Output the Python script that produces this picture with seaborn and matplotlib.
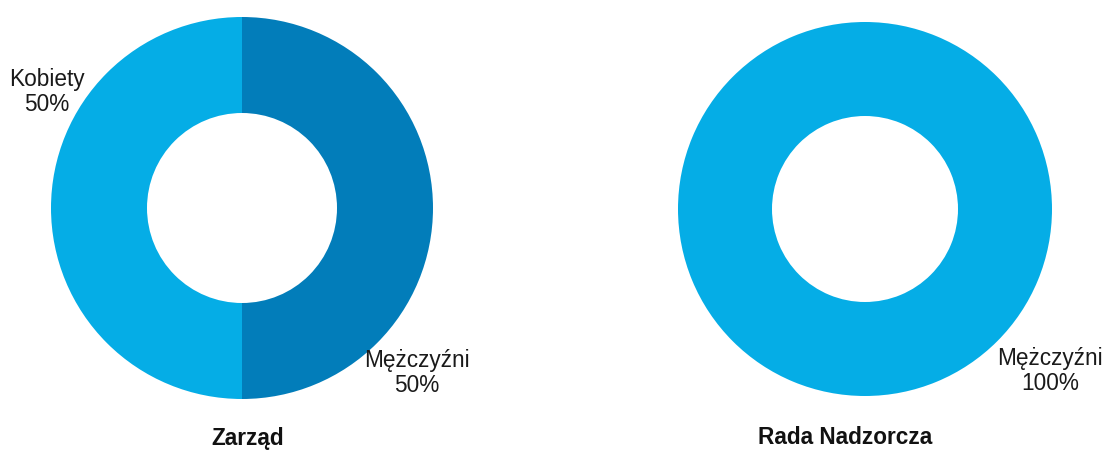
import matplotlib
matplotlib.use("Agg")
import matplotlib.pyplot as plt
import seaborn as sns

# ================= DANE =================
zarzad_etykiety = ["Kobiety", "Mężczyźni"]
zarzad_wartosci = [50, 50]

rada_etykiety = ["Mężczyźni"]
rada_wartosci = [100]

tytuly = ["Zarząd", "Rada Nadzorcza"]

# ================= STYL =================
sns.set_theme(style="white")
plt.rcParams['font.family'] = ['Liberation Sans', 'DejaVu Sans']

JASNY = "#05ADE6"
CIEMNY = "#027DBA"

fig = plt.figure(figsize=(11.02, 4.5), dpi=100)
ax = fig.add_axes([0, 0, 1, 1])

# Zarząd
ax.pie(zarzad_wartosci, colors=[JASNY, CIEMNY], startangle=90, counterclock=True,
       center=(242, 242), radius=191, wedgeprops=dict(width=96, linewidth=0),
       frame=True)
# Rada Nadzorcza
ax.pie(rada_wartosci, colors=[JASNY], startangle=90,
       center=(865, 241), radius=187, wedgeprops=dict(width=94, linewidth=0),
       frame=True)
ax.set_xlim(0, 1102)
ax.set_ylim(0, 450)
ax.set_aspect("equal")
ax.axis("off")

fs = 16.3
def podpis(x, y, nazwa, wartosc):
    ax.text(x, y, f"{nazwa}\n{wartosc}%", ha="center", va="center",
            multialignment="center", fontsize=fs, color="#1a1a1a", linespacing=1.15)

podpis(47, 358, zarzad_etykiety[0], zarzad_wartosci[0])
podpis(417, 77, zarzad_etykiety[1], zarzad_wartosci[1])
podpis(1050, 79, rada_etykiety[0], rada_wartosci[0])

ax.text(248, 12, tytuly[0], ha="center", va="center", fontsize=fs, fontweight="bold", color="#111111")
ax.text(845, 12, tytuly[1], ha="center", va="center", fontsize=fs, fontweight="bold", color="#111111")

fig.savefig("out.png", dpi=100, facecolor="white")
